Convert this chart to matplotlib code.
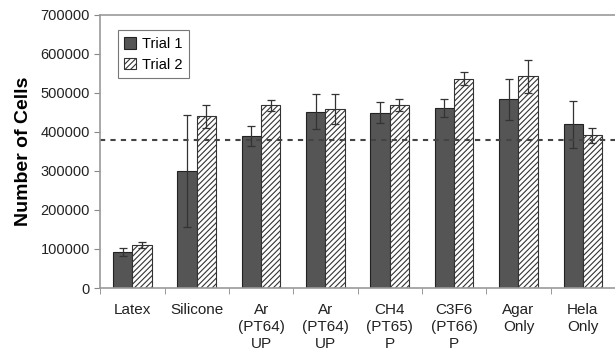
import matplotlib.pyplot as plt
import numpy as np

plt.rcParams['font.family'] = ['Liberation Sans', 'DejaVu Sans']
plt.rcParams['hatch.color'] = '#444444'
plt.rcParams['hatch.linewidth'] = 0.8

categories = ["Latex", "Silicone", "Ar\n(PT64)\nUP", "Ar\n(PT64)\nUP", "CH4\n(PT65)\nP",
              "C3F6\n(PT66)\nP", "Agar\nOnly", "Hela\nOnly"]
trial1 = [93000, 300000, 390000, 452000, 449000, 462000, 484000, 420000]
trial1_err = [10000, 143000, 25000, 45000, 27000, 23000, 53000, 60000]
trial2 = [110000, 440000, 468000, 459000, 469000, 537000, 543000, 392000]
trial2_err = [7000, 30000, 15000, 38000, 16000, 17000, 42000, 19000]
ref_line = 380000

fig = plt.figure(figsize=(6.15, 3.56), dpi=100)
ax = fig.add_axes([0.163, 0.191, 0.837, 0.767])

x = np.arange(len(categories))
w = 0.3
ax.bar(x - w/2, trial1, w, color='#555555', edgecolor='#222222', linewidth=0.8,
       yerr=trial1_err, error_kw=dict(ecolor='#333333', elinewidth=0.9, capsize=3, capthick=0.9),
       label='Trial 1')
ax.bar(x + w/2, trial2, w, color='white', edgecolor='#333333', linewidth=0.8, hatch='//////',
       yerr=trial2_err, error_kw=dict(ecolor='#333333', elinewidth=0.9, capsize=3, capthick=0.9),
       label='Trial 2')

ax.axhline(ref_line, color='#444444', linestyle=(0, (2.5, 2.5)), linewidth=1.5)

ax.set_xlim(-0.5, len(categories) - 0.5)
ax.set_ylim(0, 700000)
ax.set_yticks(np.arange(0, 700001, 100000))
ax.set_xticks(x)
ax.set_xticklabels(categories, fontsize=11, color='#222222', linespacing=1.25)
ax.set_xticks(np.arange(-0.5, len(categories), 1), minor=True)
ax.tick_params(axis='x', which='major', length=0, pad=11)
ax.tick_params(axis='x', which='minor', length=4, color='#888888')
ax.tick_params(axis='y', labelsize=10.5, length=4, color='#888888', labelcolor='#222222')

for s in ['left', 'bottom', 'top']:
    ax.spines[s].set_color('#999999')
    ax.spines[s].set_linewidth(1.2)
ax.spines['right'].set_visible(False)

ax.set_ylabel("Number of Cells", fontsize=14, fontweight='bold', labelpad=6)

leg = ax.legend(loc='upper left', bbox_to_anchor=(0.02, 0.97), fontsize=10.5, frameon=True,
                fancybox=False, edgecolor='#555555', handlelength=0.8, handleheight=0.8,
                handletextpad=0.4, borderpad=0.45, labelspacing=0.45)
leg.get_frame().set_linewidth(0.8)

plt.savefig("out.png", dpi=100)
